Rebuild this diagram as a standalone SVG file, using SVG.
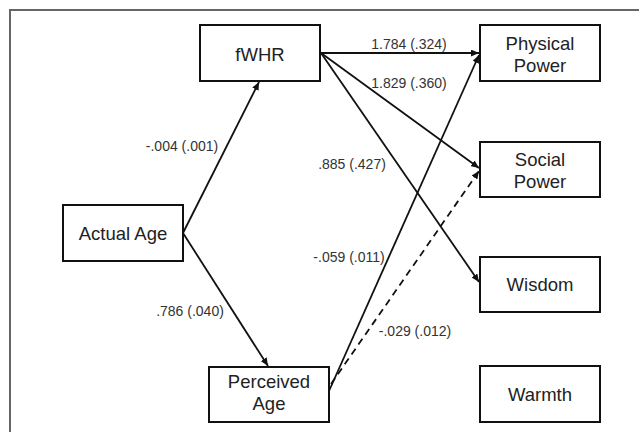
<svg xmlns="http://www.w3.org/2000/svg" width="639" height="432" viewBox="0 0 639 432">
<style>
.box{fill:#fff;stroke:#111;stroke-width:2}
.nt{font-family:"Liberation Sans",Arial,sans-serif;font-size:18.5px;fill:#222;text-anchor:middle}
.el{font-family:"Liberation Sans",Arial,sans-serif;font-size:14px;fill:#333;text-anchor:middle}
.c{fill:none;stroke:#111;stroke-width:1.8}
.d{stroke-dasharray:7 5}
</style>
<defs>
<marker id="ah" markerUnits="userSpaceOnUse" markerWidth="8" markerHeight="7" refX="8" refY="3.5" orient="auto">
<path d="M0,0 L8,3.5 L0,7 z" fill="#111"/>
</marker>
</defs>
<rect x="0" y="0" width="639" height="432" fill="#fff"/>
<rect x="10" y="10" width="660" height="460" fill="none" stroke="#666" stroke-width="2"/>
<g id="connectors">
<line class="c" x1="183" y1="233" x2="259" y2="82" marker-end="url(#ah)"/>
<line class="c" x1="183" y1="233" x2="268" y2="366" marker-end="url(#ah)"/>
<line class="c" x1="321" y1="53" x2="479" y2="53" marker-end="url(#ah)"/>
<line class="c" x1="321" y1="53" x2="479" y2="168" marker-end="url(#ah)"/>
<line class="c" x1="321" y1="53" x2="479" y2="282" marker-end="url(#ah)"/>
<line class="c" x1="329" y1="391" x2="479" y2="55" marker-end="url(#ah)"/>
<line class="c d" x1="331" y1="384" x2="479" y2="171" marker-end="url(#ah)"/>
<text class="el" x="409" y="49">1.784 (.324)</text>
<text class="el" x="409" y="88">1.829 (.360)</text>
<text class="el" x="182" y="151">-.004 (.001)</text>
<text class="el" x="352" y="169">.885 (.427)</text>
<text class="el" x="349" y="262">-.059 (.011)</text>
<text class="el" x="190" y="316">.786 (.040)</text>
<text class="el" x="415" y="336">-.029 (.012)</text>
</g>
<g id="fwhr"><rect class="box" x="200" y="25" width="120" height="56"/><text class="nt" x="260" y="61">fWHR</text></g>
<g id="actual-age"><rect class="box" x="63" y="205" width="120" height="56"/><text class="nt" x="123" y="240">Actual Age</text></g>
<g id="perceived-age"><rect class="box" x="209" y="367" width="120" height="55"/><text class="nt" x="269" y="388">Perceived</text><text class="nt" x="269" y="410">Age</text></g>
<g id="physical-power"><rect class="box" x="480" y="25" width="120" height="56"/><text class="nt" x="540" y="50">Physical</text><text class="nt" x="540" y="72">Power</text></g>
<g id="social-power"><rect class="box" x="480" y="142" width="120" height="55"/><text class="nt" x="540" y="166">Social</text><text class="nt" x="540" y="188">Power</text></g>
<g id="wisdom"><rect class="box" x="480" y="257" width="120" height="55"/><text class="nt" x="540" y="291">Wisdom</text></g>
<g id="warmth"><rect class="box" x="480" y="366" width="120" height="56"/><text class="nt" x="540" y="401">Warmth</text></g>
</svg>
